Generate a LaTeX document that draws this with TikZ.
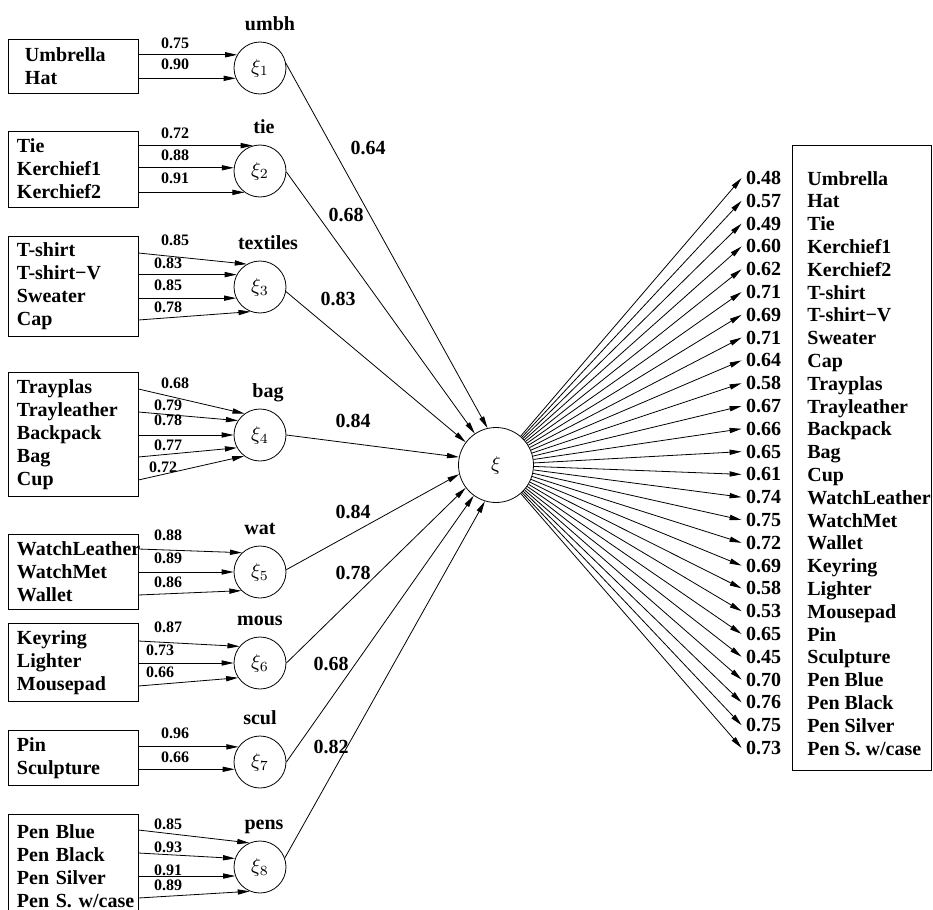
\documentclass[tikz,border=0pt]{standalone}
\usepackage{fontspec}
\setmainfont{Liberation Serif}
\usepackage{amsmath}
\usetikzlibrary{arrows.meta}

\begin{document}
\begin{tikzpicture}[
x=0.5pt, y=-0.5pt, >={Triangle[length=6pt,width=2.6pt]},
box/.style={draw, rectangle, text width=56pt, inner xsep=4.5pt, align=left, font=\bfseries\fontsize{10}{11.5}\selectfont},
lat/.style={draw, circle, inner sep=0pt, minimum size=26pt, label distance=1pt},
every label/.style={text depth=2.2pt},
wt/.style={font=\bfseries\fontsize{8}{9}\selectfont, inner sep=0pt},
num/.style={inner sep=2pt},
itm/.style={anchor=base west, inner sep=0pt}]
\tikzstyle{every node}=[font=\bfseries]
\useasboundingbox (0,0) rectangle (933,910);

% indicator boxes
\node[box, minimum height=27pt, text width=48pt, inner xsep=8.5pt] (b1) at (73,66) {Umbrella\\Hat};
\node[box, minimum height=38pt] (b2) at (73,169) {Tie\\Kerchief1\\Kerchief2};
\node[box, minimum height=49.5pt] (b3) at (73,286.5) {T-shirt\\T-shirt−V\\Sweater\\Cap};
\node[box, minimum height=60.5pt] (b4) at (73,434.5) {Trayplas\\Trayleather\\Backpack\\Bag\\Cup};
\node[box, minimum height=37.5pt] (b5) at (73,571.5) {WatchLeather\\WatchMet\\Wallet};
\node[box, minimum height=37.5pt] (b6) at (73,662.5) {Keyring\\Lighter\\Mousepad};
\node[box, minimum height=26pt] (b7) at (73,758) {Pin\\Sculpture};
\node[box, minimum height=52pt] (b8) at (73,866) {Pen Blue\\Pen Black\\Pen Silver\\\mbox{Pen S. w/case}};

% first order factors
\node[lat, label={[xshift=5pt]above:umbh}] (x1) at (260,68) {$\xi_{1}$};
\node[lat, label={[xshift=2pt]above:tie}] (x2) at (260,171) {$\xi_{2}$};
\node[lat, label={[xshift=4pt]above:textiles}] (x3) at (260,287) {$\xi_{3}$};
\node[lat, label={[xshift=4pt]above:bag}] (x4) at (260,435) {$\xi_{4}$};
\node[lat, label=above:wat] (x5) at (260,572) {$\xi_{5}$};
\node[lat, label=above:mous] (x6) at (260,663) {$\xi_{6}$};
\node[lat, label=above:scul] (x7) at (260,762) {$\xi_{7}$};
\node[lat, label={[xshift=2pt]above:pens}] (x8) at (260,867) {$\xi_{8}$};

% second order factor
\node[draw, circle, inner sep=0pt, minimum size=37.5pt] (xi) at (496,465) {$\xi$};

\draw[->] (b1.east |- x1.150) -- (x1.150);
\draw[->] (b1.east |- x1.203) -- (x1.203);
\draw[->] (b2.east |- x2.106) -- (x2.106);
\draw[->] (b2.east |- x2.173) -- (x2.173);
\draw[->] (b2.east |- x2.234) -- (x2.234);
\draw[->] ([yshift=16.75pt]b3.east) -- (x3.120);
\draw[->] (b3.east |- x3.152) -- (x3.152);
\draw[->] (b3.east |- x3.205) -- (x3.205);
\draw[->] ([yshift=-16.75pt]b3.east) -- (x3.249);
\draw[->] ([yshift=22.75pt]b4.east) -- (x4.126);
\draw[->] ([yshift=11.25pt]b4.east) -- (x4.147);
\draw[->] (b4.east |- x4.180) -- (x4.180);
\draw[->] ([yshift=-11.25pt]b4.east) -- (x4.209);
\draw[->] ([yshift=-22.75pt]b4.east) -- (x4.233);
\draw[->] ([yshift=11.25pt]b5.east) -- (x5.133);
\draw[->] (b5.east |- x5.180) -- (x5.180);
\draw[->] ([yshift=-11.75pt]b5.east) -- (x5.225);
\draw[->] ([yshift=10.75pt]b6.east) -- (x6.141);
\draw[->] (b6.east |- x6.180) -- (x6.180);
\draw[->] ([yshift=-11.75pt]b6.east) -- (x6.214);
\draw[->] (b7.east |- x7.145) -- (x7.145);
\draw[->] (b7.east |- x7.196) -- (x7.196);
\draw[->] ([yshift=18pt]b8.east) -- (x8.114);
\draw[->] ([yshift=6.5pt]b8.east) -- (x8.161);
\draw[->] (b8.east |- x8.200) -- (x8.200);
\draw[->] ([yshift=-16pt]b8.east) -- (x8.247);

\node[wt] (w1) at (175,43) {0.75};
\node[wt] (w2) at (175,64) {0.90};
\node[wt] (w3) at (175,133) {0.72};
\node[wt] (w4) at (175,155) {0.88};
\node[wt] (w5) at (175,178) {0.91};
\node[wt] (w6) at (175,240) {0.85};
\node[wt] (w7) at (168,263) {0.83};
\node[wt] (w8) at (168,285) {0.85};
\node[wt] (w9) at (168,307) {0.78};
\node[wt] (w10) at (175,383) {0.68};
\node[wt] (w11) at (168,405) {0.79};
\node[wt] (w12) at (168,420) {0.78};
\node[wt] (w13) at (168,445) {0.77};
\node[wt] (w14) at (163,467) {0.72};
\node[wt] (w15) at (168,535) {0.88};
\node[wt] (w16) at (168,558) {0.89};
\node[wt] (w17) at (168,582) {0.86};
\node[wt] (w18) at (168,627) {0.87};
\node[wt] (w19) at (160,650) {0.73};
\node[wt] (w20) at (160,672) {0.66};
\node[wt] (w21) at (175,733) {0.96};
\node[wt] (w22) at (175,757) {0.66};
\node[wt] (w23) at (168,824) {0.85};
\node[wt] (w24) at (168,847) {0.93};
\node[wt] (w25) at (168,870) {0.91};
\node[wt] (w26) at (168,885) {0.89};

\draw[->] (x1.10) -- (xi.103);
\draw[->] (x2.358) -- (xi.124);
\draw[->] (x3.350) -- (xi.143);
\draw[->] (x4.east) -- (xi.168);
\draw[->] (x5.5) -- (xi.194);
\draw[->] (x6.east) -- (xi.217);
\draw[->] (x7.east) -- (xi.234);
\draw[->] (x8.20) -- (xi.253);
\node (g1) at (368,148) {0.64};
\node (g2) at (346,215) {0.68};
\node (g3) at (338,299) {0.83};
\node (g4) at (353,421) {0.84};
\node (g5) at (353,512) {0.84};
\node (g6) at (353,573) {0.78};
\node (g7) at (331,664) {0.68};
\node (g8) at (331,747) {0.82};

% loadings on the second order factor
\node[draw, inner sep=0pt, minimum width=69.5pt, minimum height=312.5pt] (rb) at (861.5,457.5) {};
\node[num] (l1) at (763.5,178) {0.48};   \node[itm] (n1) at (807,185) {Umbrella};
\node[num] (l2) at (763.5,200.8) {0.57}; \node[itm] (n2) at (807,207.8) {Hat};
\node[num] (l3) at (763.5,223.6) {0.49}; \node[itm] (n3) at (807,230.6) {Tie};
\node[num] (l4) at (763.5,246.4) {0.60}; \node[itm] (n4) at (807,253.4) {Kerchief1};
\node[num] (l5) at (763.5,269.2) {0.62}; \node[itm] (n5) at (807,276.2) {Kerchief2};
\node[num] (l6) at (763.5,292) {0.71};   \node[itm] (n6) at (807,299) {T-shirt};
\node[num] (l7) at (763.5,314.8) {0.69}; \node[itm] (n7) at (807,321.8) {T-shirt−V};
\node[num] (l8) at (763.5,337.6) {0.71}; \node[itm] (n8) at (807,344.6) {Sweater};
\node[num] (l9) at (763.5,360.4) {0.64}; \node[itm] (n9) at (807,367.4) {Cap};
\node[num] (l10) at (763.5,383.2) {0.58}; \node[itm] (n10) at (807,390.2) {Trayplas};
\node[num] (l11) at (763.5,406) {0.67};   \node[itm] (n11) at (807,413) {Trayleather};
\node[num] (l12) at (763.5,428.8) {0.66}; \node[itm] (n12) at (807,435.8) {Backpack};
\node[num] (l13) at (763.5,451.6) {0.65}; \node[itm] (n13) at (807,458.6) {Bag};
\node[num] (l14) at (763.5,474.4) {0.61}; \node[itm] (n14) at (807,481.4) {Cup};
\node[num] (l15) at (763.5,497.2) {0.74}; \node[itm] (n15) at (807,504.2) {WatchLeather};
\node[num] (l16) at (763.5,520) {0.75};   \node[itm] (n16) at (807,527) {WatchMet};
\node[num] (l17) at (763.5,542.8) {0.72}; \node[itm] (n17) at (807,549.8) {Wallet};
\node[num] (l18) at (763.5,565.6) {0.69}; \node[itm] (n18) at (807,572.6) {Keyring};
\node[num] (l19) at (763.5,588.4) {0.58}; \node[itm] (n19) at (807,595.4) {Lighter};
\node[num] (l20) at (763.5,611.2) {0.53}; \node[itm] (n20) at (807,618.2) {Mousepad};
\node[num] (l21) at (763.5,634) {0.65};   \node[itm] (n21) at (807,641) {Pin};
\node[num] (l22) at (763.5,656.8) {0.45}; \node[itm] (n22) at (807,663.8) {Sculpture};
\node[num] (l23) at (763.5,679.6) {0.70}; \node[itm] (n23) at (807,686.6) {Pen Blue};
\node[num] (l24) at (763.5,702.4) {0.76}; \node[itm] (n24) at (807,709.4) {Pen Black};
\node[num] (l25) at (763.5,725.2) {0.75}; \node[itm] (n25) at (807,732.2) {Pen Silver};
\node[num] (l26) at (763.5,748) {0.73};   \node[itm] (n26) at (807,755) {Pen S. w/case};

\draw[->] (xi) -- (l1.west);
\draw[->] (xi) -- (l2.west);
\draw[->] (xi) -- (l3.west);
\draw[->] (xi) -- (l4.west);
\draw[->] (xi) -- (l5.west);
\draw[->] (xi) -- (l6.west);
\draw[->] (xi) -- (l7.west);
\draw[->] (xi) -- (l8.west);
\draw[->] (xi) -- (l9.west);
\draw[->] (xi) -- (l10.west);
\draw[->] (xi) -- (l11.west);
\draw[->] (xi) -- (l12.west);
\draw[->] (xi) -- (l13.west);
\draw[->] (xi) -- (l14.west);
\draw[->] (xi) -- (l15.west);
\draw[->] (xi) -- (l16.west);
\draw[->] (xi) -- (l17.west);
\draw[->] (xi) -- (l18.west);
\draw[->] (xi) -- (l19.west);
\draw[->] (xi) -- (l20.west);
\draw[->] (xi) -- (l21.west);
\draw[->] (xi) -- (l22.west);
\draw[->] (xi) -- (l23.west);
\draw[->] (xi) -- (l24.west);
\draw[->] (xi) -- (l25.west);
\draw[->] (xi) -- (l26.west);
\end{tikzpicture}
\end{document}
